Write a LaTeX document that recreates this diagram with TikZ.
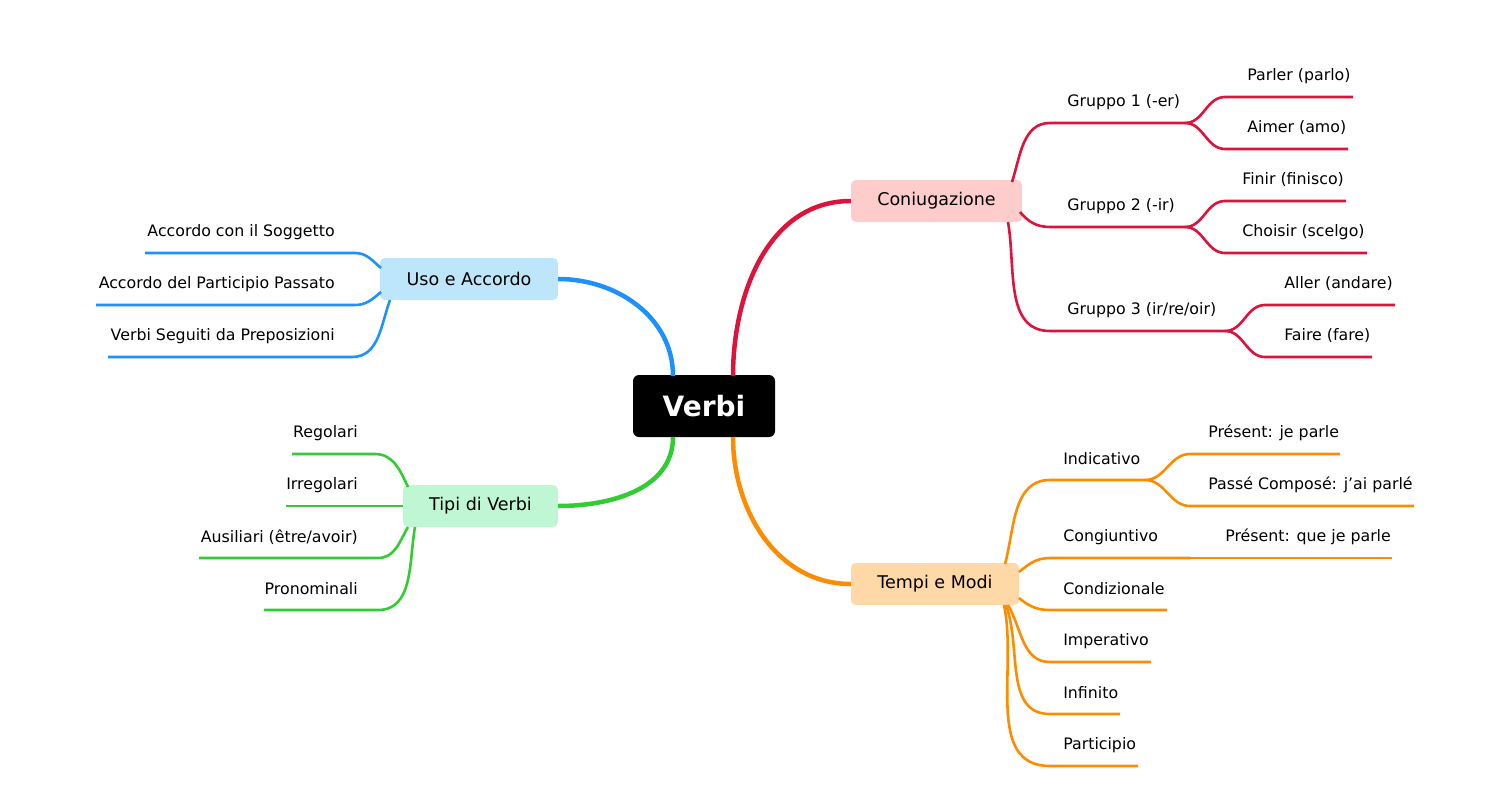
\documentclass[tikz,border=0pt]{standalone}
\usepackage{fontspec}
\setmainfont{DejaVu Sans}
\definecolor{cr}{HTML}{DC143C}
\definecolor{co}{HTML}{FF8C00}
\definecolor{cb}{HTML}{1E90FF}
\definecolor{cg}{HTML}{32CD32}
\begin{document}
\begin{tikzpicture}[x=1pt,y=-1pt,
  mid/.style={rounded corners=5pt,minimum height=42pt,inner sep=0pt,font=\fontsize{17.5}{20}\selectfont},
  lbl/.style={font=\fontsize{15.8}{18}\selectfont,inner sep=0pt,anchor=west},
  lbr/.style={font=\fontsize{15.8}{18}\selectfont,inner sep=0pt,anchor=east},
  thick br/.style={line width=4.5pt},
  thin br/.style={line width=2.6pt}]
\useasboundingbox (0,0) rectangle (1509,811);
% nodes
\node[fill=black,text=white,rounded corners=6pt,minimum width=142pt,minimum height=62pt,font=\fontsize{28}{32}\selectfont\bfseries] (root) at (704,406) {Verbi};
\node[mid,fill={rgb,255:red,255;green,204;blue,204},minimum width=171pt] (con) at (936.5,201) {Coniugazione};
\node[mid,fill={rgb,255:red,255;green,216;blue,168},minimum width=168pt] (tem) at (935,584) {Tempi e Modi};
\node[mid,fill={rgb,255:red,189;green,230;blue,251},minimum width=178pt] (uso) at (469,279) {Uso e Accordo};
\node[mid,fill={rgb,255:red,191;green,247;blue,213},minimum width=155pt] (tip) at (480.5,506) {Tipi di Verbi};
% main branches
\draw[cr,thick br] (733,376) to[out=90,in=180] (con.west);
\draw[co,thick br] (733,437) to[out=-90,in=180] (tem.west);
\draw[cb,thick br] (673,376) to[out=90,in=0] (uso.east);
\draw[cg,thick br] (673,437) to[out=-90,in=0] (tip.east);
% red
\begin{scope}[cr,thin br]
\node[lbl,text=black] (g1) at (1066,102) {Gruppo 1 (-er)};
\node[lbl,text=black] (g2) at (1066,206) {Gruppo 2 (-ir)};
\node[lbl,text=black] (g3) at (1066,310) {Gruppo 3 (ir/re/oir)};
\coordinate (g1e) at (1185,123); \coordinate (g2e) at (1185,227); \coordinate (g3e) at (1225,331);
\draw (1012,182) to[out=72,in=180] (1050,123) -- (g1e);
\draw (1020,212) to[out=-50,in=180] (1050,227) -- (g2e);
\draw (1008,222) to[out=-80,in=180] (1050,331) -- (g3e);
\node[lbl,text=black] (p1) at (1246,76) {Parler (parlo)};
\node[lbl,text=black] (p2) at (1246,128) {Aimer (amo)};
\node[lbl,text=black] (p3) at (1241,180) {Finir (finisco)};
\node[lbl,text=black] (p4) at (1241,232) {Choisir (scelgo)};
\node[lbl,text=black] (p5) at (1283,284) {Aller (andare)};
\node[lbl,text=black] (p6) at (1283,336) {Faire (fare)};
\draw (g1e) to[out=0,in=180] (1225,97) -- (1353,97);
\draw (g1e) to[out=0,in=180] (1225,149) -- (1348,149);
\draw (g2e) to[out=0,in=180] (1225,201) -- (1346,201);
\draw (g2e) to[out=0,in=180] (1225,253) -- (1367,253);
\draw (g3e) to[out=0,in=180] (1265,305) -- (1395,305);
\draw (g3e) to[out=0,in=180] (1265,357) -- (1372,357);
\end{scope}
% orange
\begin{scope}[co,thin br]
\node[lbl,text=black] (o1) at (1062,459) {Indicativo};
\node[lbl,text=black] (o2) at (1062,537) {Congiuntivo};
\node[lbl,text=black] (o3) at (1062,589) {Condizionale};
\node[lbl,text=black] (o4) at (1062,641) {Imperativo};
\node[lbl,text=black] (o5) at (1062,693) {Infinito};
\node[lbl,text=black] (o6) at (1062,745) {Participio};
\coordinate (o1e) at (1145,480); \coordinate (o2e) at (1190,558);
\draw (1005,564) to[out=75,in=180] (1050,480) -- (o1e);
\draw (1019,572) to[out=40,in=180] (1050,558) -- (o2e);
\draw (1019,598) to[out=-40,in=180] (1050,610) -- (1167,610);
\draw (1008,605) to[out=-60,in=180] (1050,662) -- (1151,662);
\draw (1006,605) to[out=-70,in=180] (1050,714) -- (1120,714);
\draw (1004,605) to[out=-78,in=180] (1050,766) -- (1138,766);
\node[lbl,text=black] (q1) at (1207,433) {Présent: je parle};
\node[lbl,text=black] (q2) at (1207,485) {Passé Composé: j{\char"0027}ai parlé};
\node[lbl,text=black] (q3) at (1224,537) {Présent: que je parle};
\draw (o1e) to[out=0,in=180] (1190,454) -- (1340,454);
\draw (o1e) to[out=0,in=180] (1190,506) -- (1414,506);
\draw (o2e) -- (1392,558);
\end{scope}
% blue
\begin{scope}[cb,thin br]
\node[lbr,text=black] (b1) at (336,232) {Accordo con il Soggetto};
\node[lbr,text=black] (b2) at (336,284) {Accordo del Participio Passato};
\node[lbr,text=black] (b3) at (336,336) {Verbi Seguiti da Preposizioni};
\draw (381,268) to[out=140,in=0] (355,253) -- (145,253);
\draw (381,292) to[out=-140,in=0] (355,305) -- (96,305);
\draw (390,300) to[out=-110,in=0] (352,357) -- (108,357);
\end{scope}
% green
\begin{scope}[cg,thin br]
\node[lbr,text=black] (v1) at (359,433) {Regolari};
\node[lbr,text=black] (v2) at (359,485) {Irregolari};
\node[lbr,text=black] (v3) at (359,537) {Ausiliari (être/avoir)};
\node[lbr,text=black] (v4) at (359,589) {Pronominali};
\draw (408,487) to[out=115,in=0] (375,454) -- (292,454);
\draw (tip.west) -- (286,506);
\draw (408,527) to[out=-120,in=0] (378,558) -- (199,558);
\draw (415,527) to[out=-100,in=0] (378,610) -- (264,610);
\end{scope}
\end{tikzpicture}
\end{document}
